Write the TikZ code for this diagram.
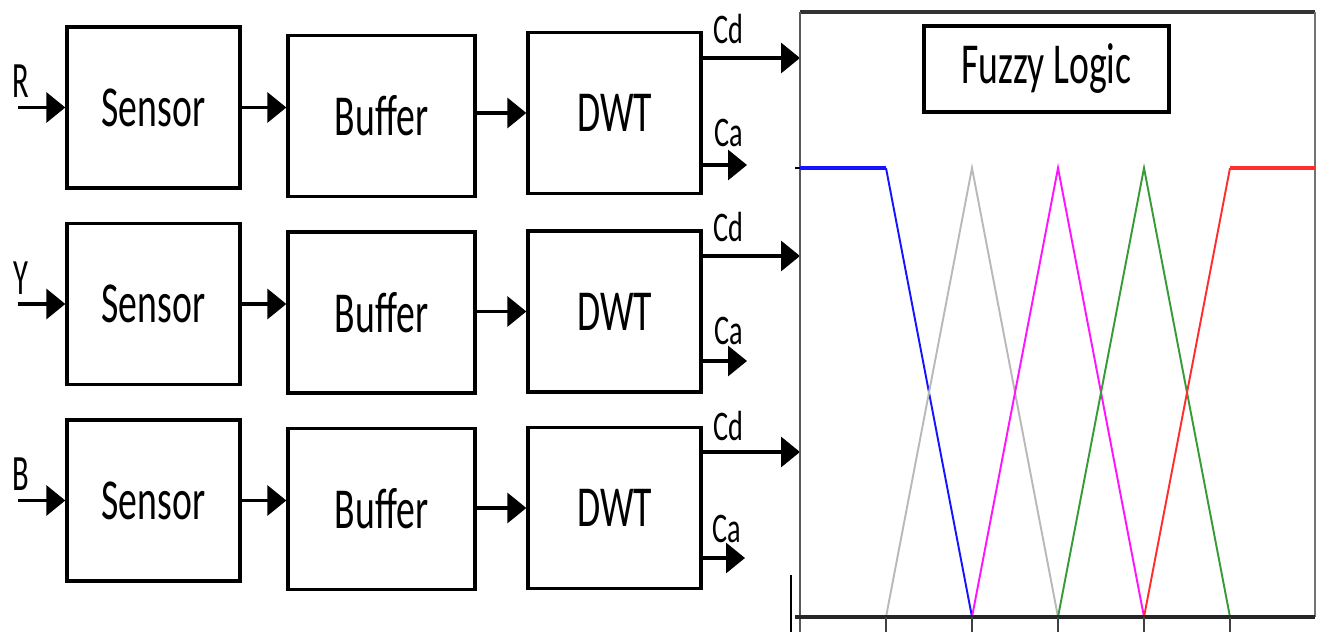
\documentclass[tikz,border=0pt]{standalone}
\usepackage{fontspec}
\usepackage{graphicx}
\setmainfont{Carlito}
\usetikzlibrary{arrows.meta}
\definecolor{mfblue}{RGB}{20,20,255}
\definecolor{mfgray}{RGB}{185,185,185}
\definecolor{mfmag}{RGB}{255,20,255}
\definecolor{mfgreen}{RGB}{55,155,55}
\definecolor{mfred}{RGB}{255,45,45}
\newcommand{\sqz}[2][0.65]{\scalebox{#1}[1]{#2}}
\tikzset{
  blk/.style={draw, line width=1.9pt, minimum width=3.46cm,
              minimum height=3.22cm, inner sep=0pt,
              font=\fontsize{33}{36}\selectfont},
  wblk/.style={blk, minimum width=3.74cm},
  ar/.style={-{Triangle[length=0.38cm, width=0.6cm]}, line width=1.9pt},
  sig/.style={font=\fontsize{24}{26}\selectfont, inner sep=0pt, anchor=base},
  inl/.style={font=\fontsize{29}{31}\selectfont, inner sep=0pt},
  mf/.style={line width=1.1pt, #1},
  mff/.style={line width=2.3pt, #1},
}
% 1 unit = 1 pixel of the 1327 x 632 drawing
\def\Ytop{168}
\def\Ybot{617}

\begin{document}
\begin{tikzpicture}[x=0.2mm, y=-0.2mm]
\useasboundingbox (0,0) rectangle (1327,632);

%% ============================================================
%% SIGNAL CHAINS
%% ============================================================

%% --- row R ---
\node[blk]  (s1) at (153.5, 107.5) {\sqz{Sensor}};
\node[wblk] (b1) at (381.5, 116)   {\sqz{Buffer}};
\node[blk]  (d1) at (614.5, 113)   {\sqz{DWT}};
\node[inl] (lR) at (21, 81.5) {\sqz[0.6]{R}};
\coordinate (in1) at (18, 107.5);
\coordinate (cd1) at (800, 58);
\coordinate (ca1) at (747, 165);

\draw[ar] (in1) -- (s1.west);
\draw[ar] (s1.east) -- (s1.east -| b1.west);
\draw[ar] (b1.east |- d1.west) -- (d1.west);
\draw[ar] (d1.east |- cd1) -- (cd1);
\draw[ar] (d1.east |- ca1) -- (ca1);
\node[sig] (lcd1) at (728, 44)  {\sqz[0.67]{Cd}};
\node[sig] (lca1) at (729, 147) {\sqz[0.67]{Ca}};

%% --- row Y ---
\node[blk]  (s2) at (153.5, 304)   {\sqz{Sensor}};
\node[wblk] (b2) at (381.5, 312.5) {\sqz{Buffer}};
\node[blk]  (d2) at (614.5, 311.5) {\sqz{DWT}};
\node[inl] (lY) at (21, 278) {\sqz[0.6]{Y}};
\coordinate (in2) at (18, 304);
\coordinate (cd2) at (800, 256);
\coordinate (ca2) at (747, 361);

\draw[ar] (in2) -- (s2.west);
\draw[ar] (s2.east) -- (s2.east -| b2.west);
\draw[ar] (b2.east |- d2.west) -- (d2.west);
\draw[ar] (d2.east |- cd2) -- (cd2);
\draw[ar] (d2.east |- ca2) -- (ca2);
\node[sig] (lcd2) at (728, 242) {\sqz[0.67]{Cd}};
\node[sig] (lca2) at (729, 344) {\sqz[0.67]{Ca}};

%% --- row B ---
\node[blk]  (s3) at (153.5, 500.5) {\sqz{Sensor}};
\node[wblk] (b3) at (381.5, 509)   {\sqz{Buffer}};
\node[blk]  (d3) at (614.5, 508)   {\sqz{DWT}};
\node[inl] (lB) at (21, 474) {\sqz[0.6]{B}};
\coordinate (in3) at (18, 500.5);
\coordinate (cd3) at (800, 452);
\coordinate (ca3) at (745, 558);

\draw[ar] (in3) -- (s3.west);
\draw[ar] (s3.east) -- (s3.east -| b3.west);
\draw[ar] (b3.east |- d3.west) -- (d3.west);
\draw[ar] (d3.east |- cd3) -- (cd3);
\draw[ar] (d3.east |- ca3) -- (ca3);
\node[sig] (lcd3) at (728, 440) {\sqz[0.67]{Cd}};
\node[sig] (lca3) at (727, 542) {\sqz[0.67]{Ca}};

%% ============================================================
%% FUZZY LOGIC PANEL
%% ============================================================
\node[blk, minimum width=4.9cm, minimum height=1.72cm] (fz) at (1046.5, 69)
  {\sqz{Fuzzy Logic}};

%% frame
\draw[line width=2.3pt, black!80] (800,12) -- (1315,12);
\draw[line width=1.2pt, black!65] (800,12) -- (800,632);
\draw[line width=1.2pt, black!55] (1315,12) -- (1315,\Ybot);
\draw[line width=1.1pt] (791,575) -- (791,632);
\draw[line width=1.2pt] (795,\Ytop) -- (800,\Ytop);

%% membership functions
\draw[mff=mfblue] (800,\Ytop) -- (886,\Ytop);
\draw[mf=mfblue]  (886,\Ytop) -- (972,\Ybot);
\draw[mf=mfgray]  (886,\Ybot) -- (972,\Ytop) -- (1058,\Ybot);
\draw[mf=mfmag]   (972,\Ybot) -- (1058,\Ytop) -- (1144,\Ybot);
\draw[mf=mfgreen] (1058,\Ybot) -- (1144,\Ytop) -- (1230,\Ybot);
\draw[mf=mfred]   (1144,\Ybot) -- (1230,\Ytop);
\draw[mff=mfred]  (1230,\Ytop) -- (1315,\Ytop);

%% axis
\draw[line width=2.3pt, black!85] (795,\Ybot) -- (1315,\Ybot);
\foreach \t in {886,972,1058,1144,1230}
  \draw[line width=1.2pt, black!75] (\t,\Ybot) -- (\t,632);

\end{tikzpicture}
\end{document}
